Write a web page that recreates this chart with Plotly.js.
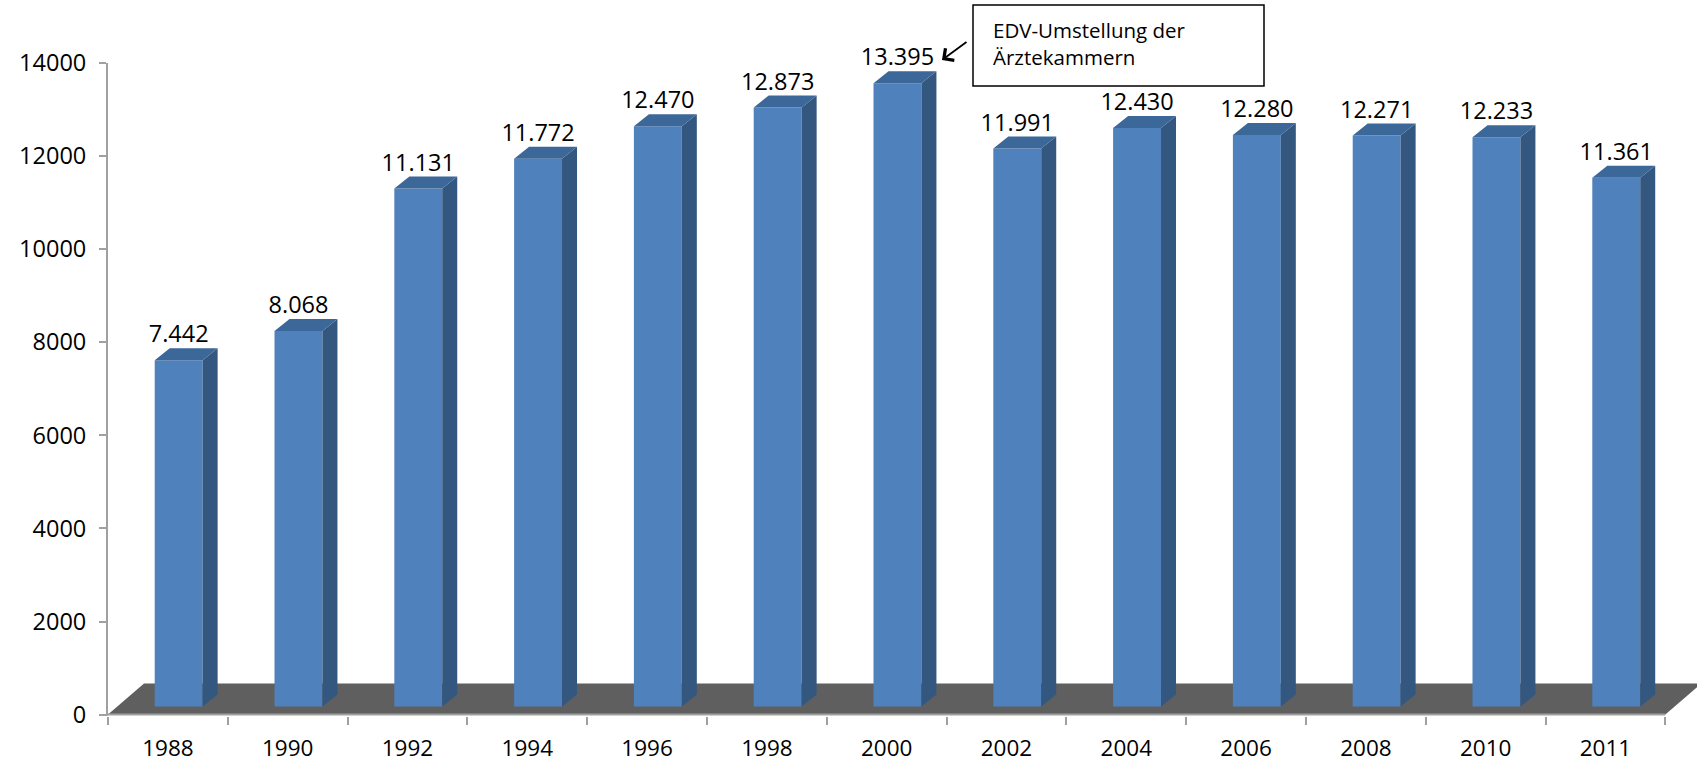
<!DOCTYPE html>
<html>
<head>
<meta charset="utf-8">
<script src="https://cdn.plot.ly/plotly-3.0.1.min.js"></script>
<style>html,body{margin:0;padding:0;background:#fff;}#chart{width:1697px;height:765px;}</style>
</head>
<body>
<div id="chart"></div>
<script>
// ---- data ----
const years = ['1988','1990','1992','1994','1996','1998','2000','2002','2004','2006','2008','2010','2011'];
const values = [7442, 8068, 11131, 11772, 12470, 12873, 13395, 11991, 12430, 12280, 12271, 12233, 11361];
const yTicks = [0, 2000, 4000, 6000, 8000, 10000, 12000, 14000];
const noteText = 'EDV-Umstellung der<br>Ärztekammern';

// ---- layout geometry (style) ----
const W = 1697, H = 765;
const ml = 108, mr = 0, mt = 63, mb = 49;
const plotW = W - ml - mr, plotH = H - mt - mb;
const xMin = -0.5, xMax = 12.764;
const yMin = -30, yMax = 14000;
const pxX = plotW / (xMax - xMin);
const pxY = plotH / (yMax - yMin);
const FONT = 'Open Sans, Lato, sans-serif';
const FS = 23.5;

// 3D styling offsets (converted from pixels to axis units)
const barW = 0.4, barShift = 0.09;
const dx = 15 / pxX, dy = 12 / pxY;
const base = 8 / pxY;
const floorDx = 36 / pxX, floorDy = 31 / pxY;

function fmt(v) {
  const s = String(v);
  return s.length > 3 ? s.slice(0, s.length - 3) + '.' + s.slice(-3) : s;
}
const idx = years.map((_, i) => i);

// side and top faces
const sideX = [], sideY = [], topX = [], topY = [];
values.forEach((v, i) => {
  const xl = i + barShift - barW / 2, xr = i + barShift + barW / 2;
  const t = base + v;
  sideX.push(xr, xr + dx, xr + dx, xr, xr, null);
  sideY.push(base, base + dy, t + dy, t, base, null);
  topX.push(xl, xl + dx, xr + dx, xr, xl, null);
  topY.push(t, t + dy, t + dy, t, t, null);
});

const traces = [
  {
    type: 'bar', x: idx, y: values, base: base, width: barW, offset: barShift - barW / 2,
    marker: {color: '#4f81bd', line: {width: 0}}, hoverinfo: 'skip', showlegend: false
  },
  {
    type: 'scatter', mode: 'lines', x: sideX, y: sideY, fill: 'toself',
    fillcolor: '#34577f', line: {width: 0, color: '#34577f'}, hoverinfo: 'skip', showlegend: false
  },
  {
    type: 'scatter', mode: 'lines', x: topX, y: topY, fill: 'toself',
    fillcolor: '#3c6799', line: {width: 0, color: '#3c6799'}, hoverinfo: 'skip', showlegend: false
  },
  {
    type: 'scatter', mode: 'text', x: idx.map(i => i + barShift), y: values.map(v => base + v + dy),
    text: values.map(fmt), textposition: 'top center', cliponaxis: false,
    textfont: {family: FONT, size: FS, color: '#000'}, hoverinfo: 'skip', showlegend: false
  }
];

const paperX = px => (px - ml) / plotW;
const paperY = py => (H - mb - py) / plotH;

const layout = {
  width: W, height: H,
  margin: {l: ml, r: mr, t: mt, b: mb, pad: 0},
  paper_bgcolor: '#fff', plot_bgcolor: '#fff',
  showlegend: false,
  xaxis: {
    range: [xMin, xMax], showgrid: false, zeroline: false, showline: false,
    tickmode: 'array', tickvals: idx, ticktext: years, ticks: '',
    ticklabelstandoff: 16,
    tickfont: {family: FONT, size: 22.5, color: '#000'},
    minor: {tickmode: 'array', tickvals: idx.map(i => i - 0.5).concat([years.length - 0.5]),
            ticks: 'outside', ticklen: 8, tickwidth: 2, tickcolor: '#a0a0a0', showgrid: false}
  },
  yaxis: {
    range: [yMin, yMax], showgrid: false, zeroline: false,
    showline: true, linecolor: '#a0a0a0', linewidth: 2,
    tickmode: 'array', tickvals: yTicks, ticktext: yTicks.map(String),
    ticks: 'outside', ticklen: 7, tickwidth: 2, tickcolor: '#a0a0a0',
    ticklabelstandoff: 8,
    tickfont: {family: FONT, size: FS, color: '#000'}
  },
  shapes: [
    {type: 'path', xref: 'x', yref: 'y', layer: 'below',
     path: `M ${xMin},0 L ${years.length - 0.5},0 L ${years.length - 0.5 + floorDx},${floorDy} L ${xMin + floorDx},${floorDy} Z`,
     fillcolor: '#5f5f5f', line: {width: 0}},
    {type: 'line', xref: 'x', yref: 'y', x0: xMin, x1: years.length - 0.5, y0: 0, y1: 0,
     line: {color: '#a0a0a0', width: 2}},
    {type: 'rect', xref: 'paper', yref: 'paper',
     x0: paperX(973), x1: paperX(1264), y0: paperY(86), y1: paperY(5),
     fillcolor: '#fff', line: {color: '#000', width: 1.5}}
  ],
  annotations: [
    {xref: 'paper', yref: 'paper', x: paperX(991), y: paperY(44), xanchor: 'left', yanchor: 'middle',
     align: 'left', showarrow: false, text: noteText,
     font: {family: FONT, size: 20.5, color: '#000'}},
    {xref: 'paper', yref: 'paper', x: paperX(942), y: paperY(60), ax: 26, ay: -19,
     text: '', showarrow: true, arrowhead: 4, arrowsize: 1.6, arrowwidth: 1.8, arrowcolor: '#000', standoff: 0}
  ]
};

Plotly.newPlot('chart', traces, layout, {staticPlot: true, displayModeBar: false});
</script>
</body>
</html>
